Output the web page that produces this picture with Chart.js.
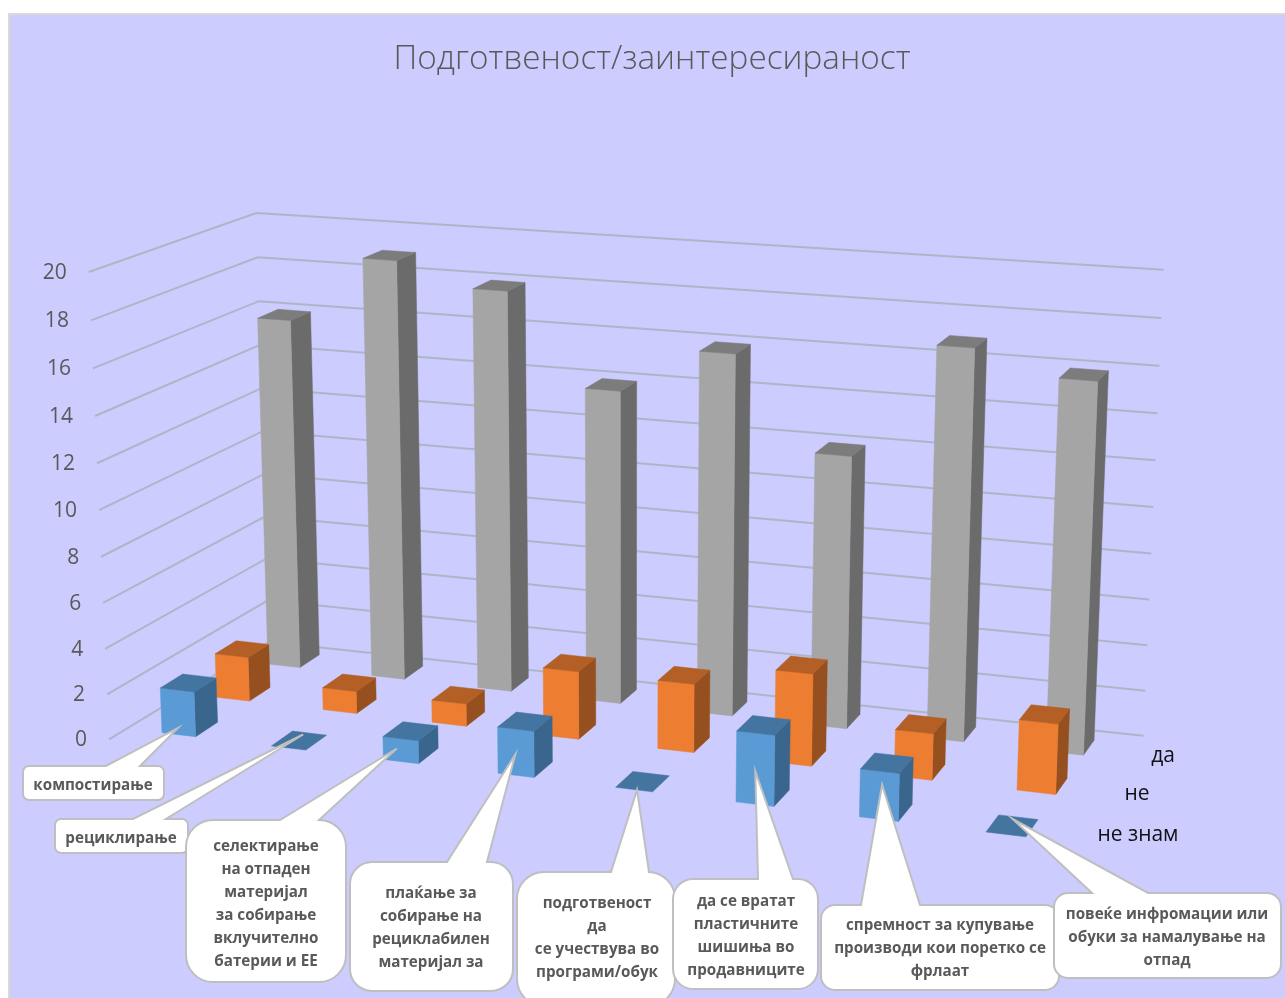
<!DOCTYPE html>
<html>
<head>
<meta charset="utf-8">
<title>Подготвеност/заинтересираност</title>
<script src="https://cdn.jsdelivr.net/npm/chart.js@4"></script>
<style>
	html, body { margin: 0; padding: 0; background: #fff; overflow: hidden; }
	canvas { display: block; }
</style>
</head>
<body>
<canvas id="chart3d" width="1285" height="998"></canvas>
<script>
// Категории (текстот во облачињата)
const categories = [
	['компостирање'],
	['рециклирање'],
	['селектирање', 'на отпаден', 'материјал', 'за собирање', 'вклучително', 'батерии и ЕЕ'],
	['плаќање за', 'собирање на', 'рециклабилен', 'материјал за'],
	['подготвеност', 'да', 'се учествува во', 'програми/обук'],
	['да се вратат', 'пластичните', 'шишиња во', 'продавниците'],
	['спремност за купување', 'производи кои поретко се', 'фрлаат'],
	['повеќе инфромации или', 'обуки за намалување на', 'отпад']
];

// Серии
const seriesDa = [16, 19, 18, 14, 16, 12, 17, 16];
const seriesNe = [2, 1, 1, 3, 3, 4, 2, 3];
const seriesNeZnam = [2, 0, 1, 2, 0, 3, 2, 0];

const titleText = 'Подготвеност/заинтересираност';
const barFraction = 0.31;
const barDepth = 0.4;

// Страни на кутијата: [предна, горна, десна]
const colorsNeZnam = ['#5B9BD5', '#4474A0', '#3A658C'];
const colorsNe = ['#ED7D31', '#B35F25', '#964F1E'];
const colorsDa = ['#A5A5A5', '#7C7C7C', '#6B6B6B'];

// Положби на облачињата: x, y, w, h, r, опашка a-b, прва линија, центар на текст, врв [du, dw, v]
const callouts = [
	{ x: 23, y: 766, w: 141, h: 34, r: 6, a: 106, b: 140, ty: 786, tx: 93, tip: [0.15, 0, 0.3] },
	{ x: 55, y: 819, w: 133, h: 34, r: 6, a: 133, b: 166, ty: 839, tx: 121, tip: [0.12, 0.35, 0] },
	{ x: 186, y: 820, w: 160, h: 162, r: 27, a: 280, b: 319, ty: 847, tx: 266, tip: [0.12, 0, 0.55] },
	{ x: 350, y: 862, w: 163, h: 129, r: 22, a: 447, b: 487, ty: 894, tx: 431, tip: [0.15, 0, 0.9] },
	{ x: 517, y: 872, w: 158, h: 134, r: 27, a: 611, b: 649, ty: 904, tx: 597, tip: [0.18, 0, 0] },
	{ x: 673, y: 879, w: 145, h: 110, r: 20, a: 758, b: 793, ty: 902, tx: 746, tip: [0.155, 0, 1.4] },
	{ x: 821, y: 905, w: 238, h: 85, r: 14, a: 861, b: 920, ty: 926, tx: 940, tip: [0.175, 0, 1.45] },
	{ x: 1054, y: 893, w: 227, h: 85, r: 14, a: 1092, b: 1148, ty: 915, tx: 1167, tip: [0.12, 0.35, 0] }
];
const depthLabelPos = [[1138, 835], [1137, 794], [1163, 756]];

// Перспектива: под (u = категорија, w = ред) + вертикална точка на бегство
const floorQuad = [[162, 732.7], [986, 832], [1046, 751], [268, 664]];
const vanishing = [628, 12700];
const perUnit = -0.00186;
const wallFront = [-0.33, -0.3];
const wallBackL = [-0.28, 2.6];
const wallBackR = [7.67, 2.65];
const wallStretch = 1.005;

function makeFloor(q) {
	const dx1 = q[1][0] - q[2][0], dx2 = q[3][0] - q[2][0], sx = q[0][0] - q[1][0] + q[2][0] - q[3][0];
	const dy1 = q[1][1] - q[2][1], dy2 = q[3][1] - q[2][1], sy = q[0][1] - q[1][1] + q[2][1] - q[3][1];
	const den = dx1 * dy2 - dx2 * dy1;
	const g = (sx * dy2 - dx2 * sy) / den;
	const h = (dx1 * sy - sx * dy1) / den;
	return {
		a: q[1][0] - q[0][0] + g * q[1][0], b: q[3][0] - q[0][0] + h * q[3][0], c: q[0][0],
		d: q[1][1] - q[0][1] + g * q[1][1], e: q[3][1] - q[0][1] + h * q[3][1], f: q[0][1],
		g: g, h: h
	};
}
const floor = makeFloor(floorQuad);

function project(u, w, v) {
	const U = u / (categories.length - 1), V = w / 2, k = v * perUnit;
	const X = floor.a * U + floor.b * V + floor.c + k * vanishing[0];
	const Y = floor.d * U + floor.e * V + floor.f + k * vanishing[1];
	const W = floor.g * U + floor.h * V + 1 + k;
	return [X / W, Y / W];
}

function poly(ctx, pts, color) {
	ctx.beginPath();
	pts.forEach((p, i) => i ? ctx.lineTo(p[0], p[1]) : ctx.moveTo(p[0], p[1]));
	ctx.closePath();
	ctx.fillStyle = color;
	ctx.fill();
	ctx.strokeStyle = color;
	ctx.lineWidth = 0.5;
	ctx.stroke();
}

function drawBox(ctx, u, w, v, colors) {
	const u2 = u + barFraction, w2 = w + barDepth;
	if (v > 0) {
		poly(ctx, [project(u2, w, 0), project(u2, w2, 0), project(u2, w2, v), project(u2, w, v)], colors[2]);
		poly(ctx, [project(u, w, 0), project(u2, w, 0), project(u2, w, v), project(u, w, v)], colors[0]);
	}
	poly(ctx, [project(u, w, v), project(u2, w, v), project(u2, w2, v), project(u, w2, v)], colors[1]);
}

function drawCallout(ctx, c, lines, index) {
	const tip = project(index + c.tip[0], c.tip[1], c.tip[2]);
	ctx.beginPath();
	ctx.moveTo(c.x + c.r, c.y);
	ctx.lineTo(c.a, c.y);
	ctx.lineTo(tip[0], tip[1]);
	ctx.lineTo(c.b, c.y);
	ctx.arcTo(c.x + c.w, c.y, c.x + c.w, c.y + c.h, c.r);
	ctx.arcTo(c.x + c.w, c.y + c.h, c.x, c.y + c.h, c.r);
	ctx.arcTo(c.x, c.y + c.h, c.x, c.y, c.r);
	ctx.arcTo(c.x, c.y, c.x + c.w, c.y, c.r);
	ctx.closePath();
	ctx.fillStyle = '#fff';
	ctx.fill();
	ctx.strokeStyle = '#BFBFBF';
	ctx.lineWidth = 2;
	ctx.stroke();
	ctx.fillStyle = '#595959';
	ctx.font = 'bold 15.2px "Open Sans"';
	ctx.textAlign = 'center';
	ctx.textBaseline = 'middle';
	lines.forEach((line, i) => ctx.fillText(line, c.tx, c.ty + i * 23));
}

const perspective = {
	id: 'perspective',
	beforeDraw(chart) {
		const ctx = chart.ctx;
		ctx.save();
		ctx.fillStyle = '#D9D9D9';
		ctx.fillRect(8, 13, chart.width, chart.height);
		ctx.fillStyle = '#CCCCFF';
		ctx.fillRect(10, 15, chart.width, chart.height);
		ctx.restore();
	},
	beforeDatasetsDraw(chart) {
		// Мрежа и вредности на оската
		const ctx = chart.ctx;
		ctx.save();
		ctx.strokeStyle = '#ACB7C6';
		ctx.lineWidth = 2;
		ctx.font = '21px "Open Sans"';
		ctx.fillStyle = '#595959';
		ctx.textAlign = 'right';
		ctx.textBaseline = 'middle';
		chart.scales.y.ticks.forEach(t => {
			const v = t.value * wallStretch;
			const a = project(wallFront[0], wallFront[1], v);
			const b = project(wallBackL[0], wallBackL[1], v);
			const c = project(wallBackR[0], wallBackR[1], v);
			ctx.beginPath();
			ctx.moveTo(a[0], a[1]);
			ctx.lineTo(b[0], b[1]);
			ctx.lineTo(c[0], c[1]);
			ctx.stroke();
			ctx.fillText(t.label, a[0] - 22, a[1] + 1);
		});
		ctx.restore();
	},
	beforeDatasetDraw(chart, args) {
		const ctx = chart.ctx;
		const xs = chart.scales.x, ys = chart.scales.y;
		const start = xs.getPixelForValue(0);
		const band = xs.getPixelForValue(1) - start;
		const colors = chart.data.datasets[args.index].faceColors;
		ctx.save();
		args.meta.data.forEach(el => {
			drawBox(ctx, (el.x - start) / band, args.index, ys.getValueForPixel(el.y), colors);
		});
		ctx.restore();
		return false;
	},
	afterDatasetsDraw(chart) {
		const ctx = chart.ctx;
		ctx.save();
		ctx.font = '21px "Open Sans"';
		ctx.fillStyle = '#111';
		ctx.textAlign = 'center';
		ctx.textBaseline = 'middle';
		chart.data.datasets.forEach((ds, i) => {
			ctx.fillText(ds.label, depthLabelPos[i][0], depthLabelPos[i][1]);
		});
		callouts.forEach((c, i) => drawCallout(ctx, c, categories[i], i));
		ctx.restore();
	}
};

new Chart(document.getElementById('chart3d'), {
	type: 'bar',
	plugins: [perspective],
	data: {
		labels: categories,
		datasets: [
			{ label: 'не знам', data: seriesNeZnam, backgroundColor: colorsNeZnam[0], faceColors: colorsNeZnam },
			{ label: 'не', data: seriesNe, backgroundColor: colorsNe[0], faceColors: colorsNe },
			{ label: 'да', data: seriesDa, backgroundColor: colorsDa[0], faceColors: colorsDa }
		]
	},
	options: {
		responsive: false,
		animation: false,
		grouped: false,
		barPercentage: barFraction,
		categoryPercentage: 1,
		layout: { padding: { left: 119, right: 100, top: 0, bottom: 260 } },
		plugins: {
			legend: { display: false },
			tooltip: { enabled: false },
			title: {
				display: true,
				text: titleText,
				color: '#595959',
				font: { family: '"Open Sans"', size: 33.3, weight: '300' },
				padding: { top: 40, bottom: 150 }
			}
		},
		scales: {
			x: { display: false },
			y: { display: false, min: 0, max: 20, ticks: { stepSize: 2 } }
		}
	}
});
</script>
</body>
</html>
